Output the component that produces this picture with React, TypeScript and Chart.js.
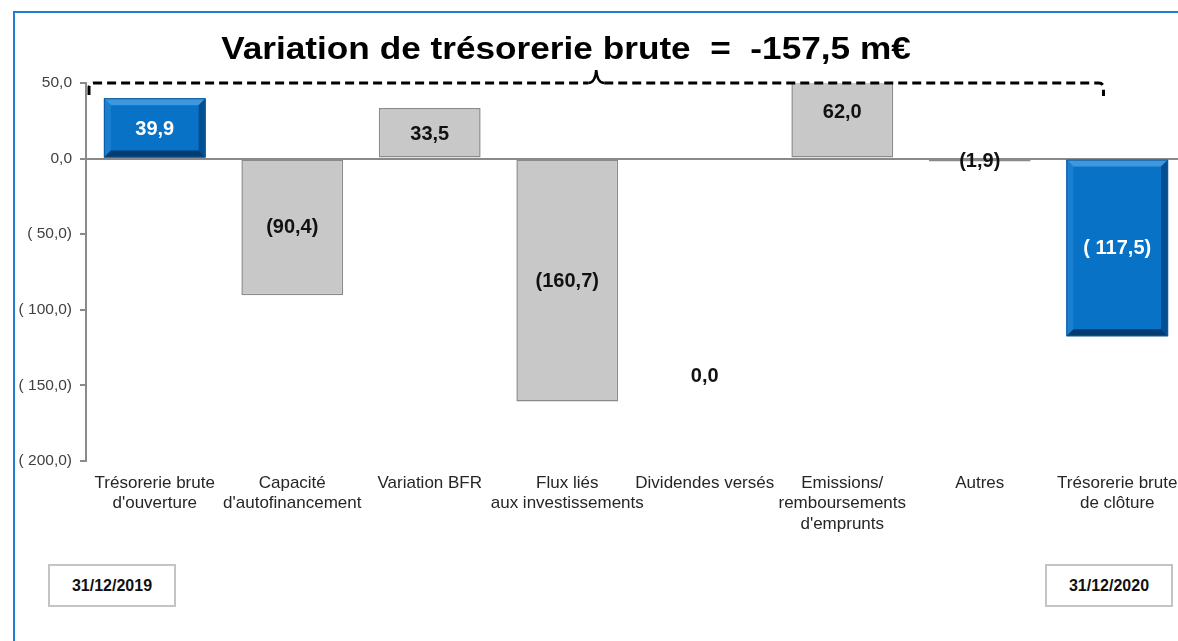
import React, { useEffect, useRef } from "react";
import { Chart, registerables } from "chart.js";

Chart.register(...registerables);

// ---------- data ----------
const categories: string[][] = [
  ["Trésorerie brute", "d'ouverture"],
  ["Capacité", "d'autofinancement"],
  ["Variation BFR"],
  ["Flux liés", "aux investissements"],
  ["Dividendes versés"],
  ["Emissions/", "remboursements", "d'emprunts"],
  ["Autres"],
  ["Trésorerie brute", "de clôture"],
];
const values: number[] = [39.9, -90.4, 33.5, -160.7, 0.0, 62.0, -1.9, -117.5];
const isBalance: boolean[] = [true, false, false, false, false, false, false, true];
const yMin = -200;
const yMax = 50;
const yStep = 50;
const titleText = "Variation de trésorerie brute  =  -157,5 m€";
const startDate = "31/12/2019";
const endDate = "31/12/2020";
const zeroLabelAt = -143.5; // where the "0,0" label of a zero bar sits
const bracketEndIndex = 6.9; // right end of the dashed bracket (category units)

// ---------- styles ----------
const FONT = "'Liberation Sans', Arial, sans-serif";
const BLUE = "#0872c6";
const GRAY = "#c8c8c8";
const GRAY_BORDER = "#8a8a8a";

const fmt = (v: number) => Math.abs(v).toFixed(1).replace(".", ",");
const tickFmt = (v: number) => (v < 0 ? `( ${fmt(v)})` : fmt(v));
const labelFmt = (v: number, bal: boolean) =>
  v < 0 ? (bal ? `( ${fmt(v)})` : `(${fmt(v)})`) : fmt(v);

const bevelPlugin = {
  id: "bevel",
  afterDatasetsDraw(chart: any) {
    const ctx = chart.ctx;
    const meta = chart.getDatasetMeta(0);
    meta.data.forEach((bar: any, i: number) => {
      if (!isBalance[i]) return;
      const { x, y, base, width } = bar.getProps(["x", "y", "base", "width"], true);
      const l = x - width / 2;
      const r = x + width / 2;
      const t = Math.min(y, base);
      const b = Math.max(y, base);
      const e = 7;
      ctx.save();
      const poly = (pts: number[][], color: string) => {
        ctx.beginPath();
        ctx.moveTo(pts[0][0], pts[0][1]);
        for (let k = 1; k < pts.length; k++) ctx.lineTo(pts[k][0], pts[k][1]);
        ctx.closePath();
        ctx.fillStyle = color;
        ctx.fill();
      };
      poly([[l, t], [r, t], [r - e, t + e], [l + e, t + e]], "#3f98dd");
      poly([[l, t], [l + e, t + e], [l + e, b - e], [l, b]], "#1a7fd0");
      poly([[r, t], [r, b], [r - e, b - e], [r - e, t + e]], "#044f92");
      poly([[l, b], [l + e, b - e], [r - e, b - e], [r, b]], "#033c70");
      ctx.strokeStyle = "#0a5a9c";
      ctx.lineWidth = 1;
      ctx.strokeRect(l + 0.5, t + 0.5, width - 1, b - t - 1);
      ctx.restore();
    });
  },
};

const labelPlugin = {
  id: "labels",
  afterDatasetsDraw(chart: any) {
    const ctx = chart.ctx;
    const yScale = chart.scales.y;
    const meta = chart.getDatasetMeta(0);
    ctx.save();
    ctx.font = `bold 20px ${FONT}`;
    ctx.textAlign = "center";
    ctx.textBaseline = "middle";
    meta.data.forEach((bar: any, i: number) => {
      const v = values[i];
      const yy = v === 0 ? yScale.getPixelForValue(zeroLabelAt) : yScale.getPixelForValue(v / 2);
      ctx.fillStyle = isBalance[i] ? "#ffffff" : "#111111";
      ctx.fillText(labelFmt(v, isBalance[i]), bar.x, yy + 1);
    });
    ctx.restore();
  },
};

const decorPlugin = {
  id: "decor",
  afterDraw(chart: any) {
    const ctx = chart.ctx;
    const xs = chart.scales.x;
    const ys = chart.scales.y;
    const area = chart.chartArea;
    // title (slightly stretched horizontally)
    ctx.save();
    ctx.font = `bold 32px ${FONT}`;
    ctx.fillStyle = "#000";
    ctx.textBaseline = "alphabetic";
    ctx.textAlign = "center";
    ctx.translate(566, 59);
    ctx.scale(1.1, 1);
    ctx.fillText(titleText, 0, 0);
    ctx.restore();

    // dashed bracket
    const yTop = ys.getPixelForValue(yMax);
    const xl = area.left + 3;
    const xr = xs.getPixelForValue(bracketEndIndex);
    const xc = (xl + xr) / 2;
    ctx.save();
    ctx.strokeStyle = "#000";
    ctx.lineWidth = 3;
    ctx.setLineDash([9, 5]);
    ctx.beginPath();
    ctx.moveTo(xl, yTop + 12);
    ctx.lineTo(xl, yTop + 5);
    ctx.quadraticCurveTo(xl, yTop, xl + 5, yTop);
    ctx.lineTo(xc - 8, yTop);
    ctx.stroke();
    ctx.beginPath();
    ctx.setLineDash([]);
    ctx.lineWidth = 2.5;
    ctx.moveTo(xc - 8, yTop);
    ctx.quadraticCurveTo(xc - 1, yTop, xc, yTop - 13);
    ctx.quadraticCurveTo(xc + 1, yTop, xc + 8, yTop);
    ctx.stroke();
    ctx.beginPath();
    ctx.lineWidth = 3;
    ctx.setLineDash([9, 5]);
    ctx.moveTo(xc + 8, yTop);
    ctx.lineTo(xr - 5, yTop);
    ctx.quadraticCurveTo(xr, yTop, xr, yTop + 5);
    ctx.lineTo(xr, yTop + 13);
    ctx.stroke();
    ctx.restore();
  },
};

export default function App() {
  const ref = useRef<HTMLCanvasElement | null>(null);

  useEffect(() => {
    if (!ref.current) return;
    const chart = new Chart(ref.current, {
      type: "bar",
      data: {
        labels: categories,
        datasets: [
          {
            data: values,
            backgroundColor: values.map((_, i) => (isBalance[i] ? BLUE : GRAY)),
            borderColor: values.map((_, i) => (isBalance[i] ? "#0a5a9c" : GRAY_BORDER)),
            borderWidth: 1.5,
            borderSkipped: false,
            barPercentage: 0.74,
            categoryPercentage: 1,
          },
        ],
      },
      options: {
        responsive: false,
        animation: false,
        devicePixelRatio: 1,
        layout: { padding: { left: 0, right: 14, top: 83, bottom: 0 } },
        plugins: {
          legend: { display: false },
          title: { display: false },
          tooltip: { enabled: false },
        },
        scales: {
          x: {
            grid: { display: false, drawTicks: false },
            border: { display: false },
            ticks: {
              autoSkip: false,
              maxRotation: 0,
              minRotation: 0,
              padding: 12,
              color: "#262626",
              font: { family: FONT, size: 17, lineHeight: 1.2 },
            },
            afterFit: (scale: any) => {
              scale.height = 180;
            },
          },
          y: {
            min: yMin,
            max: yMax,
            ticks: {
              stepSize: yStep,
              padding: 8,
              color: "#404040",
              font: { family: FONT, size: 15.5 },
              callback: (v: any) => tickFmt(Number(v)),
            },
            grid: {
              drawOnChartArea: true,
              drawTicks: true,
              tickLength: 6,
              tickColor: "#8a8a8a",
              lineWidth: 2,
              color: (c: any) => (c.tick && c.tick.value === 0 ? "#8a8a8a" : "rgba(0,0,0,0)"),
            },
            border: { display: true, color: "#8a8a8a", width: 2 },
            afterFit: (scale: any) => {
              scale.width = 86;
            },
          },
        },
      },
      plugins: [bevelPlugin, labelPlugin, decorPlugin],
    });
    return () => chart.destroy();
  }, []);

  const boxStyle: React.CSSProperties = {
    position: "absolute",
    top: 564,
    height: 43,
    width: 128,
    border: "2px solid #c4c4c4",
    boxSizing: "border-box",
    display: "flex",
    alignItems: "center",
    justifyContent: "center",
    fontFamily: FONT,
    fontWeight: "bold",
    fontSize: 16,
    color: "#111",
    background: "#fff",
  };

  return (
    <div
      style={{
        position: "absolute",
        left: 0,
        top: 0,
        width: 1178,
        height: 641,
        overflow: "hidden",
        background: "#fff",
      }}
    >
      <div
        style={{
          position: "absolute",
          left: 13,
          top: 11,
          width: 2000,
          height: 2000,
          borderLeft: "2px solid #1f80d2",
          borderTop: "2px solid #1f80d2",
        }}
      />
      <canvas
        ref={ref}
        width={1200}
        height={641}
        style={{ position: "absolute", left: 0, top: 0 }}
      />
      <div style={{ ...boxStyle, left: 48 }}>{startDate}</div>
      <div style={{ ...boxStyle, left: 1045 }}>{endDate}</div>
    </div>
  );
}
